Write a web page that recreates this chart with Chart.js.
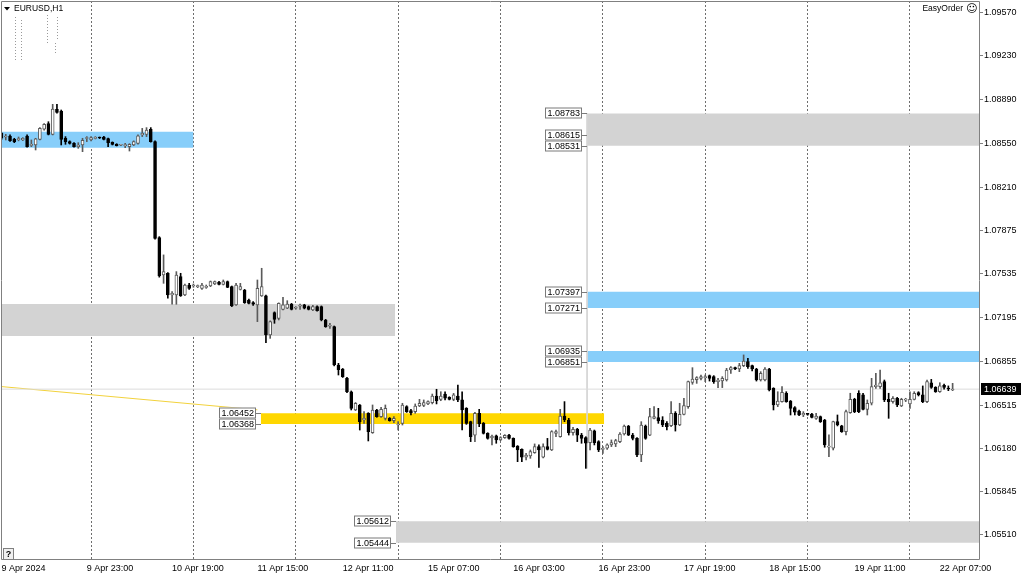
<!DOCTYPE html>
<html><head><meta charset="utf-8">
<script src="https://cdn.jsdelivr.net/npm/chart.js@4.4.1/dist/chart.umd.min.js"></script>
<style>html,body{margin:0;padding:0;background:#fff;overflow:hidden}#wrap{width:1024px;height:576px}</style>
</head><body><div id="wrap"><canvas id="c" width="1024" height="576"></canvas></div>
<script>
// ---------- DATA ----------
const tradingDays = ['9 Apr','10 Apr','11 Apr','12 Apr','15 Apr','16 Apr','17 Apr','18 Apr','19 Apr','22 Apr'];
const firstHour = 3, lastHour = 10;
const times = [];
tradingDays.forEach((d,k)=>{const h0=k===0?firstHour:0;const h1=k===tradingDays.length-1?lastHour:23;for(let h=h0;h<=h1;h++)times.push(d+' '+String(h).padStart(2,'0')+':00');});

const tickLabels = ['9 Apr 2024','9 Apr 23:00','10 Apr 19:00','11 Apr 15:00','12 Apr 11:00','15 Apr 07:00','16 Apr 03:00','16 Apr 23:00','17 Apr 19:00','18 Apr 15:00','19 Apr 11:00','22 Apr 07:00'];
const yTicks = [1.09570,1.09230,1.08890,1.08550,1.08210,1.07875,1.07535,1.07195,1.06855,1.06515,1.06180,1.05845,1.05510];

const open = [1.08629,1.08600,1.08608,1.08582,1.08580,1.08577,1.08608,1.08535,1.08538,1.08582,1.08660,1.08704,1.08621,1.08815,1.08802,1.08590,1.08564,1.08551,1.08525,1.08538,
1.08588,1.08577,1.08588,1.08598,1.08600,1.08588,1.08558,1.08543,1.08536,1.08533,1.08525,1.08538,1.08551,1.08616,1.08621,1.08660,1.08564,1.07817,1.07527,1.07540,
1.07371,1.07371,1.07514,1.07371,1.07449,1.07441,1.07436,1.07423,1.07431,1.07441,1.07457,1.07470,1.07454,1.07475,1.07436,1.07294,1.07415,1.07410,1.07332,1.07312,
1.07294,1.07364,1.07364,1.07060,1.07234,1.07190,1.07260,1.07268,1.07301,1.07268,1.07284,1.07294,1.07281,1.07255,1.07281,1.07281,1.07177,1.07128,1.07125,1.06827,
1.06795,1.06723,1.06619,1.06477,1.06516,1.06399,1.06451,1.06301,1.06477,1.06425,1.06412,1.06412,1.06394,1.06360,1.06373,1.06503,1.06472,1.06464,1.06508,1.06513,
1.06524,1.06534,1.06586,1.06560,1.06601,1.06575,1.06560,1.06586,1.06555,1.06490,1.06386,1.06282,1.06451,1.06373,1.06295,1.06259,1.06275,1.06244,1.06262,1.06282,
1.06256,1.06197,1.06171,1.06109,1.06119,1.06145,1.06192,1.06109,1.06192,1.06166,1.06295,1.06269,1.06430,1.06399,1.06301,1.06326,1.06282,1.06262,1.06223,1.06314,
1.06231,1.06171,1.06179,1.06205,1.06213,1.06231,1.06290,1.06352,1.06282,1.06256,1.06127,1.06352,1.06282,1.06412,1.06417,1.06399,1.06373,1.06355,1.06451,1.06360,
1.06443,1.06503,1.06692,1.06713,1.06723,1.06728,1.06744,1.06736,1.06697,1.06702,1.06710,1.06788,1.06806,1.06796,1.06822,1.06853,1.06822,1.06796,1.06710,1.06710,
1.06796,1.06645,1.06516,1.06542,1.06606,1.06547,1.06495,1.06469,1.06438,1.06445,1.06446,1.06412,1.06425,1.06399,1.06187,1.06179,1.06386,1.06353,1.06308,1.06456,
1.06560,1.06607,1.06594,1.06482,1.06529,1.06658,1.06658,1.06697,1.06560,1.06542,1.06568,1.06508,1.06553,1.06524,1.06560,1.06612,1.06594,1.06542,1.06689,1.06653,
1.06619,1.06669,1.06643,1.06632];
const high = [1.08635,1.08621,1.08616,1.08590,1.08600,1.08595,1.08616,1.08577,1.08590,1.08673,1.08704,1.08719,1.08854,1.08854,1.08810,1.08603,1.08570,1.08556,1.08556,1.08590,
1.08603,1.08603,1.08603,1.08600,1.08605,1.08592,1.08562,1.08548,1.08543,1.08551,1.08548,1.08570,1.08616,1.08667,1.08673,1.08673,1.08570,1.07825,1.07683,1.07545,
1.07397,1.07553,1.07540,1.07457,1.07462,1.07457,1.07449,1.07462,1.07449,1.07480,1.07480,1.07478,1.07488,1.07480,1.07441,1.07462,1.07462,1.07415,1.07340,1.07320,
1.07488,1.07579,1.07370,1.07170,1.07240,1.07310,1.07353,1.07327,1.07306,1.07281,1.07301,1.07299,1.07286,1.07290,1.07286,1.07286,1.07182,1.07151,1.07130,1.06840,
1.06800,1.06730,1.06625,1.06535,1.06520,1.06464,1.06456,1.06516,1.06482,1.06498,1.06516,1.06418,1.06425,1.06386,1.06529,1.06510,1.06482,1.06524,1.06560,1.06555,
1.06549,1.06601,1.06638,1.06619,1.06619,1.06580,1.06606,1.06671,1.06619,1.06495,1.06390,1.06459,1.06482,1.06380,1.06300,1.06282,1.06282,1.06269,1.06285,1.06287,
1.06260,1.06200,1.06175,1.06140,1.06166,1.06213,1.06205,1.06213,1.06256,1.06316,1.06321,1.06482,1.06542,1.06412,1.06342,1.06334,1.06295,1.06269,1.06334,1.06321,
1.06238,1.06192,1.06213,1.06244,1.06249,1.06301,1.06360,1.06357,1.06295,1.06262,1.06386,1.06360,1.06490,1.06503,1.06490,1.06425,1.06386,1.06542,1.06464,1.06529,
1.06568,1.06702,1.06806,1.06736,1.06749,1.06749,1.06749,1.06744,1.06723,1.06736,1.06801,1.06814,1.06810,1.06840,1.06905,1.06879,1.06827,1.06801,1.06775,1.06806,
1.06801,1.06650,1.06619,1.06658,1.06619,1.06551,1.06503,1.06477,1.06464,1.06451,1.06451,1.06451,1.06430,1.06404,1.06283,1.06390,1.06438,1.06358,1.06477,1.06607,
1.06568,1.06627,1.06607,1.06555,1.06723,1.06762,1.06788,1.06710,1.06607,1.06581,1.06575,1.06568,1.06568,1.06619,1.06619,1.06619,1.06664,1.06710,1.06715,1.06658,
1.06689,1.06679,1.06664,1.06684];
const low = [1.08582,1.08577,1.08565,1.08556,1.08570,1.08572,1.08520,1.08525,1.08499,1.08577,1.08654,1.08616,1.08616,1.08785,1.08538,1.08543,1.08545,1.08520,1.08512,1.08486,
1.08564,1.08570,1.08585,1.08588,1.08578,1.08525,1.08538,1.08530,1.08532,1.08517,1.08491,1.08533,1.08545,1.08603,1.08603,1.08560,1.07805,1.07510,1.07462,1.07346,
1.07299,1.07299,1.07360,1.07366,1.07415,1.07431,1.07428,1.07415,1.07423,1.07436,1.07452,1.07449,1.07449,1.07428,1.07281,1.07290,1.07410,1.07306,1.07301,1.07290,
1.07164,1.07360,1.07001,1.07034,1.07151,1.07177,1.07255,1.07265,1.07255,1.07260,1.07260,1.07263,1.07255,1.07250,1.07245,1.07170,1.07120,1.07112,1.06820,1.06749,
1.06730,1.06612,1.06477,1.06472,1.06321,1.06373,1.06236,1.06295,1.06420,1.06420,1.06399,1.06390,1.06378,1.06321,1.06360,1.06458,1.06438,1.06451,1.06503,1.06503,
1.06518,1.06524,1.06524,1.06549,1.06555,1.06555,1.06549,1.06542,1.06321,1.06365,1.06231,1.06231,1.06347,1.06290,1.06250,1.06205,1.06218,1.06238,1.06256,1.06250,
1.06187,1.06075,1.06075,1.06088,1.06101,1.06140,1.06031,1.06105,1.06166,1.06161,1.06269,1.06265,1.06386,1.06282,1.06282,1.06231,1.06218,1.06023,1.06166,1.06205,
1.06153,1.06140,1.06171,1.06192,1.06192,1.06223,1.06282,1.06278,1.06244,1.06114,1.06075,1.06249,1.06277,1.06407,1.06373,1.06347,1.06321,1.06347,1.06313,1.06355,
1.06438,1.06490,1.06677,1.06684,1.06710,1.06697,1.06702,1.06684,1.06651,1.06651,1.06702,1.06762,1.06790,1.06775,1.06814,1.06801,1.06780,1.06702,1.06702,1.06702,
1.06625,1.06477,1.06503,1.06537,1.06537,1.06438,1.06438,1.06433,1.06425,1.06436,1.06415,1.06404,1.06380,1.06187,1.06114,1.06166,1.06353,1.06303,1.06283,1.06451,
1.06456,1.06456,1.06477,1.06438,1.06516,1.06645,1.06645,1.06542,1.06412,1.06529,1.06503,1.06503,1.06542,1.06490,1.06555,1.06586,1.06534,1.06534,1.06645,1.06614,
1.06614,1.06638,1.06627,1.06627];
const close = [1.08590,1.08605,1.08572,1.08564,1.08584,1.08590,1.08525,1.08540,1.08585,1.08667,1.08699,1.08621,1.08818,1.08792,1.08582,1.08564,1.08551,1.08525,1.08538,1.08574,
1.08592,1.08595,1.08598,1.08592,1.08582,1.08556,1.08543,1.08533,1.08538,1.08536,1.08543,1.08564,1.08610,1.08629,1.08654,1.08564,1.07812,1.07519,1.07553,1.07372,
1.07384,1.07527,1.07366,1.07449,1.07423,1.07444,1.07439,1.07449,1.07436,1.07475,1.07475,1.07454,1.07475,1.07431,1.07286,1.07449,1.07436,1.07312,1.07306,1.07299,
1.07423,1.07436,1.07060,1.07164,1.07182,1.07306,1.07294,1.07301,1.07260,1.07271,1.07288,1.07268,1.07260,1.07281,1.07250,1.07177,1.07125,1.07131,1.06827,1.06790,
1.06736,1.06619,1.06490,1.06529,1.06386,1.06412,1.06308,1.06477,1.06425,1.06482,1.06490,1.06394,1.06412,1.06363,1.06516,1.06464,1.06456,1.06508,1.06529,1.06534,
1.06542,1.06586,1.06549,1.06586,1.06568,1.06560,1.06594,1.06555,1.06477,1.06373,1.06269,1.06451,1.06368,1.06295,1.06256,1.06274,1.06244,1.06262,1.06280,1.06256,
1.06192,1.06166,1.06109,1.06127,1.06153,1.06192,1.06166,1.06192,1.06171,1.06308,1.06308,1.06430,1.06399,1.06301,1.06326,1.06282,1.06256,1.06218,1.06321,1.06223,
1.06166,1.06179,1.06205,1.06223,1.06238,1.06290,1.06352,1.06282,1.06256,1.06127,1.06360,1.06256,1.06425,1.06425,1.06391,1.06360,1.06347,1.06451,1.06360,1.06443,
1.06511,1.06697,1.06718,1.06728,1.06736,1.06736,1.06723,1.06697,1.06710,1.06723,1.06788,1.06806,1.06796,1.06822,1.06858,1.06814,1.06796,1.06710,1.06762,1.06796,
1.06632,1.06516,1.06547,1.06614,1.06542,1.06490,1.06459,1.06438,1.06451,1.06443,1.06420,1.06430,1.06386,1.06205,1.06197,1.06386,1.06360,1.06308,1.06464,1.06560,
1.06464,1.06464,1.06482,1.06529,1.06658,1.06671,1.06689,1.06555,1.06542,1.06568,1.06516,1.06560,1.06557,1.06560,1.06607,1.06594,1.06542,1.06697,1.06653,1.06619,
1.06664,1.06653,1.06640,1.06639];

// zones: price band + time anchors (bar index positions)
const zoneTop    = [1.08641, 1.07301, 1.06452, 1.08783, 1.07397, 1.06935, 1.05612];
const zoneBottom = [1.08517, 1.07052, 1.06368, 1.08531, 1.07271, 1.06851, 1.05444];
const zoneStart  = [-2, -2, 60.8, 137.3, 137.3, 137.3, 92.5];
const zoneEnd    = [45, 92.3, 141.3, 240, 240, 240, 240];
const zoneLabels = [[], [], [1.06452,1.06368], [1.08783,1.08615,1.08531], [1.07397,1.07271], [1.06935,1.06851], [1.05612,1.05444]];
const trendX = [-1, 60];
const trendY = [1.06662, 1.06478];
const vlineX = 137.3;
const vlineY = [1.08783, 1.06023];
const bidPrice = 1.06639;

// ---------- STYLE ----------
const zoneColor = ['#87CEFA','#D3D3D3','#FFD700','#D3D3D3','#87CEFA','#87CEFA','#D3D3D3'];
const FONT = '"Liberation Sans", Arial, sans-serif';
const bullFill = '#ffffff', bullLine = '#5a5a5a', bearFill = '#000000';

const idx = open.map((_,i)=>i);
const tickIdx = tickLabels.map((t,k)=> k===0 ? 0 : times.indexOf(t));
const tickText = {}; tickIdx.forEach((v,k)=>tickText[v]=tickLabels[k]);
const sepIdx = idx.filter(i=>times[i].endsWith(' 00:00'));
const isBull = idx.map(i=>close[i]>=open[i]);

const X_MIN = -0.117, X_MAX = 229.42, Y_MIN = 1.053102, Y_MAX = 1.096577;

const datasets = [];
zoneTop.forEach((t,k)=>{
  datasets.push({type:'line', data:[{x:zoneStart[k],y:t},{x:zoneEnd[k],y:t}], borderColor:'transparent', borderWidth:0,
    pointRadius:0, fill:{value:zoneBottom[k]}, backgroundColor:zoneColor[k], order:20});
});
datasets.push({type:'line', data:[{x:-2,y:bidPrice},{x:240,y:bidPrice}], borderColor:'#dcdcdc', borderWidth:1, pointRadius:0, fill:false, order:15});
datasets.push({type:'line', data:[{x:trendX[0],y:trendY[0]},{x:trendX[1],y:trendY[1]}], borderColor:'#f2d23c', borderWidth:1, pointRadius:0, fill:false, order:15});
datasets.push({type:'line', data:[{x:vlineX,y:vlineY[0]},{x:vlineX,y:vlineY[1]}], borderColor:'#d6d6d6', borderWidth:1, pointRadius:0, fill:false, order:15});
datasets.push({type:'bar', data:idx.map(i=>({x:i,y:[low[i],high[i]]})), backgroundColor:idx.map(i=>isBull[i]?bullLine:'#000'),
  borderWidth:0, barThickness:1, grouped:false, order:2});
datasets.push({type:'bar', data:idx.map(i=>({x:i,y:[open[i],close[i]]})), backgroundColor:idx.map(i=>isBull[i]?bullFill:bearFill),
  borderColor:idx.map(i=>isBull[i]?bullLine:'#000'), borderWidth:1, borderSkipped:false, barThickness:3, minBarLength:1, grouped:false, order:1});

const noPad = (s)=>{s.paddingTop=0;s.paddingBottom=0;s.paddingLeft=0;s.paddingRight=0;};

const overlay = {
  id:'overlay',
  afterDatasetsDraw(chart){
    const ctx = chart.ctx, xs = chart.scales.x, ys = chart.scales.y;
    ctx.save();
    ctx.font = '9px '+FONT; ctx.textBaseline='middle'; ctx.textAlign='left';
    zoneLabels.forEach((labs,k)=>{
      if(!labs.length) return;
      const xr = xs.getPixelForValue(zoneStart[k]);
      labs.forEach(v=>{
        const y = Math.round(ys.getPixelForValue(v));
        const bx = Math.round(xr) - 42, bw = 37, bh = 11;
        ctx.fillStyle='#fff'; ctx.fillRect(bx, y-5.5, bw, bh);
        ctx.strokeStyle='#7a7a7a'; ctx.lineWidth=1; ctx.strokeRect(bx+0.5, y-5.5+0.5, bw-1, bh-1);
        ctx.beginPath(); ctx.moveTo(bx+bw, y+0.5); ctx.lineTo(Math.round(xr), y+0.5); ctx.stroke();
        ctx.fillStyle='#000'; ctx.fillText(v.toFixed(5), bx+2.5, y+0.5);
      });
    });
    ctx.restore();
  },
  afterDraw(chart){
    const ctx = chart.ctx, ys = chart.scales.y, ca = chart.chartArea;
    ctx.save();
    ctx.strokeStyle='#808080'; ctx.lineWidth=1;
    ctx.beginPath();
    ctx.moveTo(ca.left+0.5, ca.top+0.5); ctx.lineTo(ca.right-0.5, ca.top+0.5);
    ctx.lineTo(ca.right-0.5, ca.bottom-0.5); ctx.lineTo(ca.left+0.5, ca.bottom-0.5); ctx.closePath(); ctx.stroke();
    // faint dotted marks under the symbol caption
    ctx.strokeStyle='#9a9a9a'; ctx.setLineDash([1,2]);
    [[15.5,17,60],[21.5,20,60],[47.5,15,43],[55.5,43,55],[57.5,17,40]].forEach(([x,y0,y1])=>{ctx.beginPath();ctx.moveTo(x,y0);ctx.lineTo(x,y1);ctx.stroke();});
    ctx.setLineDash([]);
    const yb = Math.round(ys.getPixelForValue(close[close.length-1]));
    ctx.fillStyle='#000'; ctx.fillRect(ca.right+1, yb-6, 40, 12);
    ctx.fillStyle='#fff'; ctx.font='9px '+FONT; ctx.textBaseline='middle'; ctx.textAlign='left';
    ctx.fillText(close[close.length-1].toFixed(5), ca.right+4, yb+0.5);
    ctx.fillStyle='#000';
    ctx.beginPath(); ctx.moveTo(4,7); ctx.lineTo(10,7); ctx.lineTo(7,10.5); ctx.closePath(); ctx.fill();
    ctx.font='8.5px '+FONT; ctx.fillText('EURUSD,H1', 14, 9);
    ctx.textAlign='right'; ctx.fillText('EasyOrder', 963, 9);
    ctx.font='11px "DejaVu Sans"'; ctx.textAlign='left'; ctx.fillText('\u263A', 966, 9);
    ctx.fillStyle='#f0f0f0'; ctx.fillRect(3,548,11,12);
    ctx.strokeStyle='#808080'; ctx.strokeRect(3.5,548.5,10,11);
    ctx.fillStyle='#000'; ctx.font='bold 9px '+FONT; ctx.textAlign='center'; ctx.fillText('?', 8.5, 554.5);
    ctx.restore();
  }
};

new Chart(document.getElementById('c'), {
  type:'bar',
  data:{datasets},
  options:{
    responsive:false, animation:false, devicePixelRatio:1, events:[],
    layout:{padding:{left:1,top:1,right:0,bottom:0}},
    plugins:{legend:{display:false}, tooltip:{enabled:false}},
    scales:{
      x:{type:'linear', min:X_MIN, max:X_MAX, offset:false, grid:{display:false, drawTicks:false, tickLength:0, offset:false}, border:{display:false},
        ticks:{autoSkip:false, maxRotation:0, minRotation:0, align:'start', padding:3, color:'#000', font:{family:FONT, size:9},
          callback:(v)=> tickText[v] !== undefined ? tickText[v] : ''},
        afterBuildTicks:(s)=>{s.ticks = tickIdx.map(v=>({value:v}));},
        afterFit:(s)=>{s.height=16; noPad(s);}},
      x2:{type:'linear', position:'bottom', min:X_MIN, max:X_MAX, offset:false,
        grid:{display:true, drawOnChartArea:true, drawTicks:false, color:'#6e6e6e', lineWidth:1, offset:false},
        border:{display:false, dash:[2,2]}, ticks:{display:false},
        afterBuildTicks:(s)=>{s.ticks = sepIdx.map(v=>({value:v}));},
        afterFit:(s)=>{s.height=0; noPad(s);}},
      y:{type:'linear', position:'right', min:Y_MIN, max:Y_MAX, beginAtZero:false,
        grid:{drawOnChartArea:false, drawTicks:true, tickLength:3, tickColor:'#808080'}, border:{display:false},
        ticks:{padding:1, color:'#000', font:{family:FONT, size:9}, callback:(v)=>Number(v).toFixed(5)},
        afterBuildTicks:(s)=>{s.ticks = yTicks.map(v=>({value:v}));},
        afterFit:(s)=>{s.width=44; noPad(s);}}
    }
  },
  plugins:[overlay]
});
</script></body></html>
